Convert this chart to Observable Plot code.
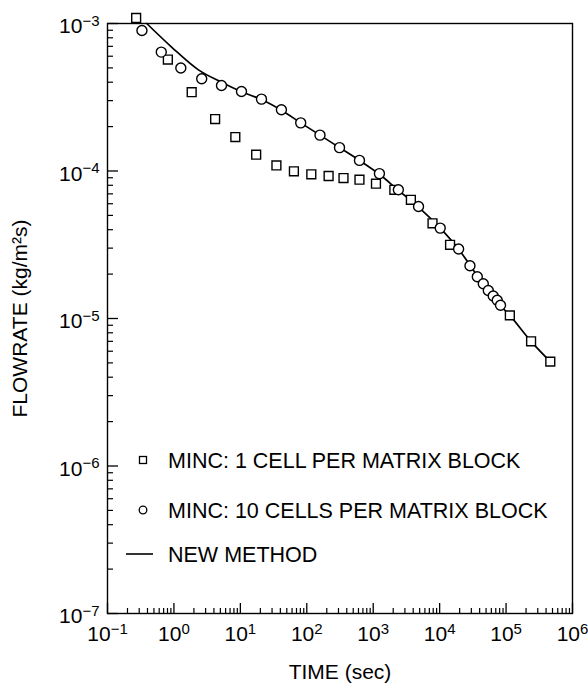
<!DOCTYPE html>
<html><head><meta charset="utf-8">
<script src="https://cdn.jsdelivr.net/npm/d3@7"></script>
<script src="https://cdn.jsdelivr.net/npm/@observablehq/plot@0.6"></script>
<style>body{margin:0;background:#fff} svg{display:block}</style>
</head><body><div id="chart"></div>
<script>
// MINC: 1 cell per matrix block (squares)
const squareT = [0.27, 0.81, 1.85, 4.17, 8.4, 17.3, 34.9, 64, 117, 213, 357, 621, 1100, 2080, 3690, 7810, 14350, 114000, 238000, 463000];
const squareF = [1.09e-3, 5.7e-4, 3.42e-4, 2.25e-4, 1.7e-4, 1.29e-4, 1.09e-4, 9.96e-5, 9.5e-5, 9.25e-5, 8.96e-5, 8.73e-5, 8.2e-5, 7.46e-5, 6.38e-5, 4.42e-5, 3.16e-5, 1.05e-5, 7.0e-6, 5.1e-6];
// MINC: 10 cells per matrix block (circles)
const circleT = [0.33, 0.645, 1.27, 2.62, 5.2, 10.4, 20.8, 41.5, 81, 158, 311, 621, 1240, 2390, 4810, 10200, 19300, 28600, 36900, 45400, 54000, 64100, 73600, 82500];
const circleF = [8.96e-4, 6.4e-4, 4.99e-4, 4.22e-4, 3.8e-4, 3.46e-4, 3.07e-4, 2.6e-4, 2.12e-4, 1.75e-4, 1.44e-4, 1.18e-4, 9.6e-5, 7.46e-5, 5.75e-5, 4.1e-5, 2.96e-5, 2.28e-5, 1.92e-5, 1.72e-5, 1.55e-5, 1.42e-5, 1.33e-5, 1.23e-5];
// New method (line)
const lineT = [0.39, 0.93, 2.34, 5.2, 10.4, 20.8, 41.5, 81, 158, 311, 621, 1240, 2390, 4810, 10200, 19300, 40000, 82500, 114000, 238000, 463000];
const lineF = [1.0e-3, 6.9e-4, 4.85e-4, 4.0e-4, 3.45e-4, 3.05e-4, 2.58e-4, 2.12e-4, 1.75e-4, 1.44e-4, 1.18e-4, 9.5e-5, 7.4e-5, 5.7e-5, 4.1e-5, 2.95e-5, 1.85e-5, 1.22e-5, 1.05e-5, 7.0e-6, 5.1e-6];

const xMajor = [0.1, 1, 10, 100, 1e3, 1e4, 1e5, 1e6];
const xExp = [-1, 0, 1, 2, 3, 4, 5, 6];
const yMajor = [1e-7, 1e-6, 1e-5, 1e-4, 1e-3];
const yExp = [-7, -6, -5, -4, -3];
const legendLabels = ["MINC: 1 CELL PER MATRIX BLOCK", "MINC: 10 CELLS PER MATRIX BLOCK", "NEW METHOD"];

const minorOf = (majors) => majors.slice(0, -1).flatMap(m => [2,3,4,5,6,7,8,9].map(k => k * m));
const xMinor = minorOf(xMajor);
const yMinor = minorOf(yMajor);

const squares = squareT.map((t, i) => ({t, f: squareF[i]}));
const circles = circleT.map((t, i) => ({t, f: circleF[i]}));
const line = lineT.map((t, i) => ({t, f: lineF[i]}));

const FONT = "Liberation Sans, Arial, Helvetica, sans-serif";

const plot = Plot.plot({
  width: 588, height: 684,
  marginLeft: 107, marginRight: 16, marginTop: 23, marginBottom: 71,
  style: {fontFamily: FONT, background: "#fff", color: "#000"},
  x: {type: "log", domain: [0.1, 1e6]},
  y: {type: "log", domain: [1e-7, 1e-3]},
  marks: [
    Plot.frame({stroke: "#000", strokeWidth: 1.4}),
    Plot.axisX(xMajor, {anchor: "bottom", tickSize: 10, dy: -10, tickFormat: () => "", label: null, strokeWidth: 1.3}),
    Plot.axisX(xMinor, {anchor: "bottom", tickSize: 5, dy: -5, tickFormat: () => "", label: null, strokeWidth: 1.2}),
    Plot.axisY(yMajor, {anchor: "left", tickSize: 11, dx: 11, tickFormat: () => "", label: null, strokeWidth: 1.3}),
    Plot.axisY(yMinor, {anchor: "left", tickSize: 6, dx: 6, tickFormat: () => "", label: null, strokeWidth: 1.2}),
    Plot.text(xMajor, {x: d => d, frameAnchor: "bottom", lineAnchor: "top", dy: 13, textAnchor: "middle",
      text: (d, i) => "10^" + xExp[i], fontSize: 21, fill: "#000"}),
    Plot.text(yMajor, {y: d => d, frameAnchor: "left", lineAnchor: "middle", dx: -8, dy: 3, textAnchor: "end",
      text: (d, i) => "10^" + yExp[i], fontSize: 21, fill: "#000"}),
    Plot.text(["TIME (sec)"], {frameAnchor: "bottom", lineAnchor: "bottom", dy: 65, textAnchor: "middle", text: d => d, fontSize: 21, fill: "#000"}),
    Plot.text(["FLOWRATE (kg/m²s)"], {frameAnchor: "left", rotate: -90, lineAnchor: "middle", textAnchor: "middle", dx: -87, text: d => d, fontSize: 21, fill: "#000"}),
    Plot.line(line, {x: "t", y: "f", stroke: "#000", strokeWidth: 1.7, curve: "catmull-rom"}),
    Plot.dot(squares, {x: "t", y: "f", symbol: "square", r: 5, stroke: "#000", fill: "#fff", strokeWidth: 1.4}),
    Plot.dot(circles, {x: "t", y: "f", symbol: "circle", r: 5, stroke: "#000", fill: "#fff", strokeWidth: 1.4})
  ]
});

// superscripts for "10^n" labels
d3.select(plot).selectAll("text").each(function() {
  const s = this.textContent;
  const m = /^10\^(-?\d+)$/.exec(s);
  if (m) {
    const exp = m[1].replace("-", "\u2212");
    this.textContent = "10";
    d3.select(this).append("tspan").attr("dy", "-0.5em").attr("font-size", 15).text(exp);
  }
});

// legend
const lg = d3.select(plot).append("g").attr("font-family", FONT).attr("font-size", 21.5).attr("text-anchor", "start");
const rows = [460, 510, 554];
lg.append("rect").attr("x", 139.5).attr("y", rows[0] - 3.5).attr("width", 7).attr("height", 7)
  .attr("fill", "#fff").attr("stroke", "#000").attr("stroke-width", 1.3);
lg.append("circle").attr("cx", 143).attr("cy", rows[1]).attr("r", 3.8)
  .attr("fill", "#fff").attr("stroke", "#000").attr("stroke-width", 1.3);
lg.append("line").attr("x1", 126).attr("x2", 153).attr("y1", rows[2]).attr("y2", rows[2])
  .attr("stroke", "#000").attr("stroke-width", 1.6);
legendLabels.forEach((t, i) => {
  lg.append("text").attr("x", 168).attr("y", rows[i]).attr("dy", "0.36em").attr("text-anchor", "start").attr("fill", "#000").text(t);
});

document.getElementById("chart").appendChild(plot);
</script>
</body></html>
